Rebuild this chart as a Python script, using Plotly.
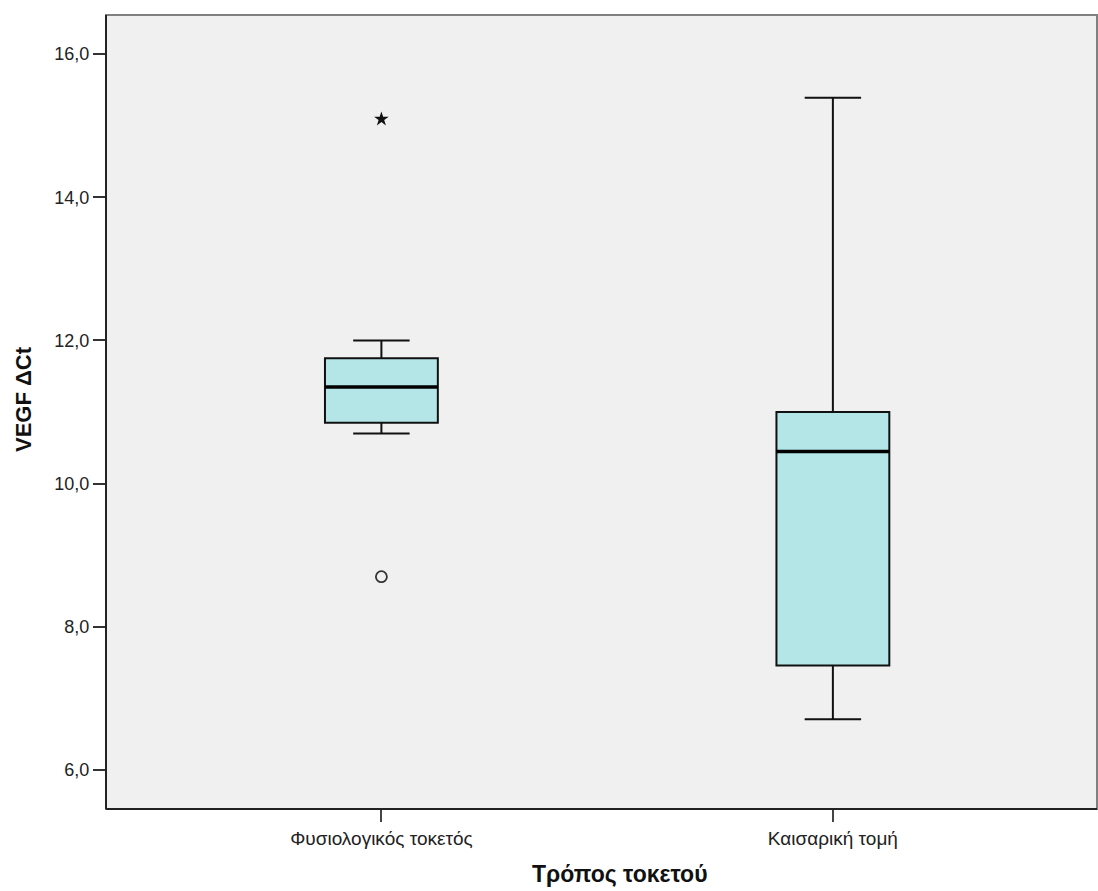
import plotly.graph_objects as go

categories = ["Φυσιολογικός τοκετός", "Καισαρική τομή"]
positions = [0, 1]
q1 = [10.85, 7.46]
median = [11.35, 10.45]
q3 = [11.75, 11.0]
lower_whisker = [10.70, 6.71]
upper_whisker = [12.0, 15.39]
outlier_cat = [0]
outlier_val = [8.70]
extreme_cat = [0]
extreme_val = [15.09]

box_w = 0.25
fill = "#B4E6E7"

fig = go.Figure()
fig.add_trace(go.Box(
    x=positions, q1=q1, median=median, q3=q3,
    lowerfence=lower_whisker, upperfence=upper_whisker,
    width=box_w, whiskerwidth=0.5,
    fillcolor=fill, line=dict(color="#111111", width=2),
    boxpoints=False, showlegend=False, hoverinfo="skip",
))
fig.add_trace(go.Scatter(
    x=outlier_cat, y=outlier_val, mode="markers",
    marker=dict(symbol="circle-open", size=11, color="#333333", line=dict(width=1.8)),
    showlegend=False,
))
fig.add_trace(go.Scatter(
    x=extreme_cat, y=extreme_val, mode="markers",
    marker=dict(symbol="star", size=11, color="#111111"),
    showlegend=False,
))

shapes = []
for p, m in zip(positions, median):
    shapes.append(dict(type="line", xref="x", yref="y",
                       x0=p - box_w / 2, x1=p + box_w / 2, y0=m, y1=m,
                       line=dict(color="#000000", width=3.5)))
shapes.append(dict(type="rect", xref="paper", yref="paper", x0=0, x1=1, y0=0, y1=1,
                   line=dict(color="#808080", width=2), layer="above"))
shapes.append(dict(type="line", xref="paper", yref="paper", x0=0, x1=0, y0=0, y1=1,
                   line=dict(color="#222222", width=2), layer="above"))
shapes.append(dict(type="line", xref="paper", yref="paper", x0=0, x1=1, y0=0, y1=0,
                   line=dict(color="#222222", width=2), layer="above"))

annotations = [
    dict(text="<b>Τρόπος τοκετού</b>", xref="paper", yref="paper",
         x=0.519, y=-0.082, xanchor="center", yanchor="middle", showarrow=False,
         font=dict(size=23, color="#111111")),
    dict(text="<b>VEGF ΔCt</b>", xref="paper", yref="paper", textangle=-90,
         x=-0.083, y=0.516, xanchor="center", yanchor="middle", showarrow=False,
         font=dict(size=22, color="#111111")),
]

fig.update_layout(
    width=1098, height=891,
    margin=dict(l=106, r=1, t=15, b=82),
    paper_bgcolor="white", plot_bgcolor="#F0F0F0",
    separators=",.",
    font=dict(family="Liberation Sans, Arial, sans-serif", color="#222222", size=17),
    shapes=shapes,
    annotations=annotations,
    xaxis=dict(
        range=[-0.61, 1.585], tickmode="array", tickvals=positions, ticktext=categories,
        showgrid=False, zeroline=False, ticks="outside", ticklen=12, tickwidth=2,
        tickcolor="#444444", tickfont=dict(size=19, color="#222222"),
    ),
    yaxis=dict(
        range=[5.455, 16.545], tickvals=[6, 8, 10, 12, 14, 16], tickformat=".1f",
        showgrid=False, zeroline=False, ticks="outside", ticklen=12, tickwidth=2,
        tickcolor="#333333", tickfont=dict(size=18, color="#222222"),
    ),
)

fig.write_html("out.html")
